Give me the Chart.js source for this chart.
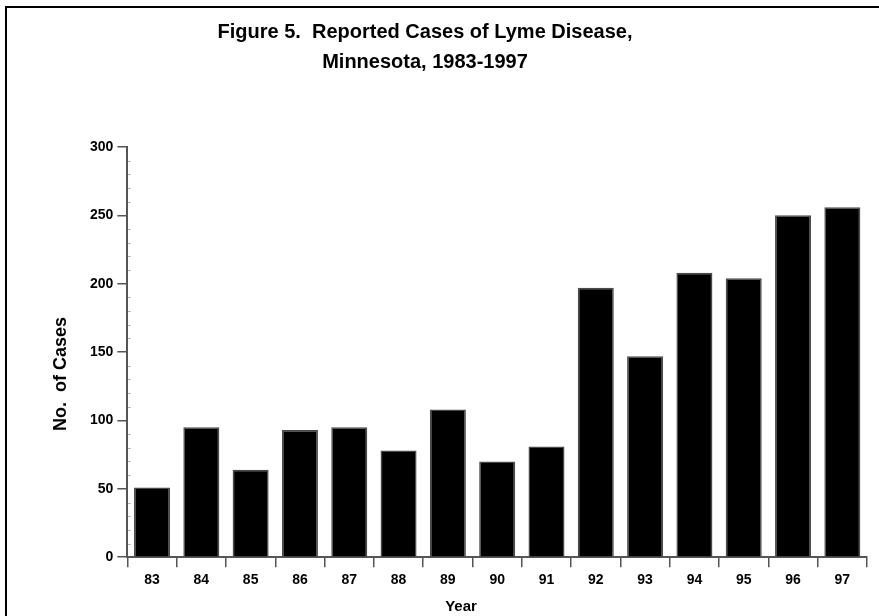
<!DOCTYPE html>
<html>
<head>
<meta charset="utf-8">
<script src="https://cdn.jsdelivr.net/npm/chart.js@4.4.1/dist/chart.umd.min.js"></script>
<style>
    html, body { margin: 0; padding: 0; background: #fff; }
    #wrap { position: relative; width: 879px; height: 616px; }
    #frame { position: absolute; left: 5px; top: 6px; right: 0; bottom: 0; border-left: 2px solid #000; border-top: 2px solid #000; pointer-events: none; }
</style>
</head>
<body>
<div id="wrap">
    <canvas id="lyme_chart" width="879" height="616"></canvas>
    <div id="frame"></div>
</div>
<script>
const years = ['83', '84', '85', '86', '87', '88', '89', '90', '91', '92', '93', '94', '95', '96', '97'];
const cases = [51, 95, 64, 93, 95, 78, 108, 70, 81, 197, 147, 208, 204, 250, 256];
const yTicks = [0, 50, 100, 150, 200, 250, 300];
const titleLines = ['Figure 5.  Reported Cases of Lyme Disease,', 'Minnesota, 1983-1997'];
const xTitle = 'Year';
const yTitle = 'No.  of Cases';

const font = '"Liberation Sans", Arial, sans-serif';

// titles and the small inner ticks on the y axis
const textPlugin = {
    id: 'textPlugin',
    afterDraw: function (chart) {
        let ctx = chart.ctx, area = chart.chartArea, y = chart.scales.y;
        ctx.save();
        ctx.strokeStyle = '#9a9a9a';
        ctx.lineWidth = 1;
        for (let v = 10; v < 300; v += 10) {
            if (v % 50 === 0) continue;
            let py = Math.round(y.getPixelForValue(v)) + 0.5;
            ctx.beginPath();
            ctx.moveTo(area.left + 1, py);
            ctx.lineTo(area.left + 3, py);
            ctx.stroke();
        }
        ctx.fillStyle = '#000';
        ctx.textAlign = 'center';
        ctx.textBaseline = 'alphabetic';
        ctx.font = 'bold 20px ' + font;
        ctx.fillText(titleLines[0], 425, 38);
        ctx.fillText(titleLines[1], 425, 68);
        ctx.font = 'bold 15px ' + font;
        ctx.fillText(xTitle, 461, 611);
        ctx.translate(66, 374);
        ctx.rotate(-Math.PI / 2);
        ctx.font = 'bold 18px ' + font;
        ctx.fillText(yTitle, 0, 0);
        ctx.restore();
    }
};

let chart = new Chart(document.getElementById('lyme_chart').getContext('2d'), {
    type: 'bar',
    data: {
        labels: years,
        datasets: [{
            data: cases,
            backgroundColor: '#000',
            borderColor: '#4a4a4a',
            borderWidth: 1.5,
            categoryPercentage: 1,
            barPercentage: 0.73
        }]
    },
    options: {
        responsive: false,
        animation: false,
        layout: { padding: { left: 86, top: 147, right: 12, bottom: 22 } },
        plugins: {
            legend: { display: false },
            tooltip: { enabled: false }
        },
        scales: {
            x: {
                grid: { offset: true, drawOnChartArea: false, tickLength: 10, color: '#555', lineWidth: 1.5 },
                border: { color: '#555', width: 2 },
                ticks: { color: '#000', font: { family: font, size: 14, weight: 'bold' }, padding: 5, maxRotation: 0, autoSkip: false }
            },
            y: {
                min: 0,
                max: 300,
                afterBuildTicks: function (scale) {
                    scale.ticks = yTicks.map(function (v) { return { value: v }; });
                },
                grid: { drawOnChartArea: false, tickLength: 10, color: '#555', lineWidth: 1.5 },
                border: { color: '#555', width: 2 },
                ticks: { color: '#000', font: { family: font, size: 14, weight: 'bold' }, padding: 4 }
            }
        }
    },
    plugins: [textPlugin]
});
</script>
</body>
</html>
